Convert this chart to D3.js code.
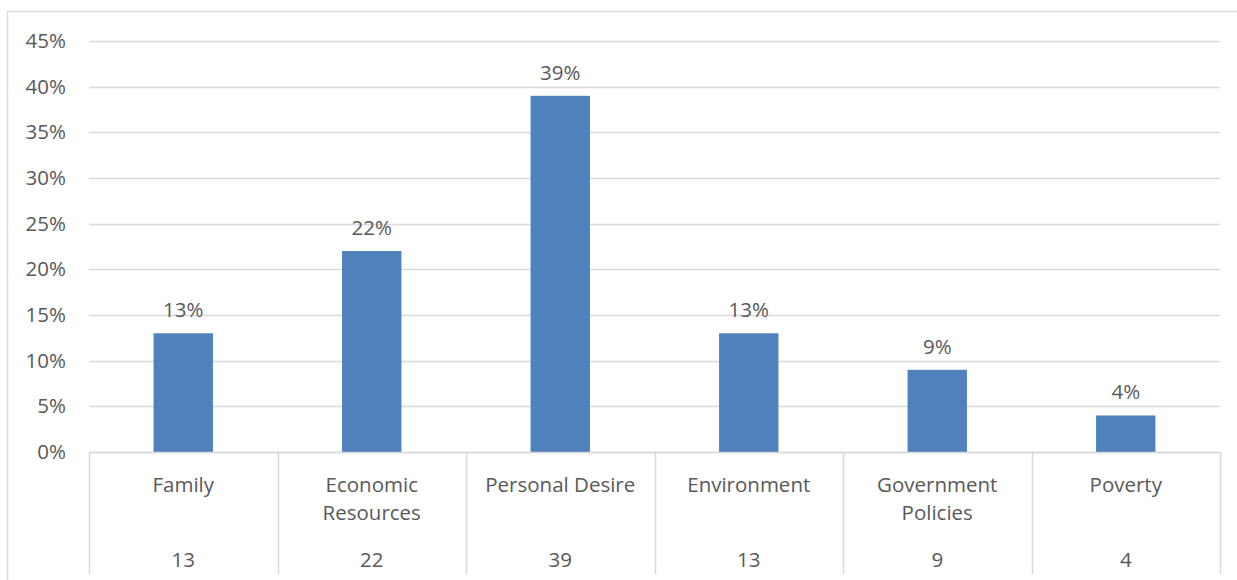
<!DOCTYPE html>
<html>
<head>
<meta charset="utf-8">
<script src="https://cdn.jsdelivr.net/npm/d3@7"></script>
<style>
  body { margin: 0; background: #fff; }
  svg text { font-family: "Open Sans", Lato, sans-serif; fill: #595959; }
</style>
</head>
<body>
<div id="chart"></div>
<script>
//******************************************************************************
//**  Data
//******************************************************************************
var categories = [["Family"], ["Economic", "Resources"], ["Personal Desire"], ["Environment"], ["Government", "Policies"], ["Poverty"]];
var counts = [13, 22, 39, 13, 9, 4];
var percents = [13, 22, 39, 13, 9, 4];
var yTicks = [0, 5, 10, 15, 20, 25, 30, 35, 40, 45];


//******************************************************************************
//**  Chart
//******************************************************************************
var chartWidth = 1237, chartHeight = 580;
var plotLeft = 89, plotRight = 1220, plotTop = 41, plotBottom = 452, tableBottom = 574;
var gridColor = "#d9d9d9";
var fontSize = 20.5;

var svg = d3.select("#chart").append("svg")
    .attr("width", chartWidth)
    .attr("height", chartHeight);

// outer border
svg.append("path")
    .attr("d", "M7.5," + chartHeight + "V11.5H" + chartWidth)
    .attr("fill", "none")
    .attr("stroke", gridColor)
    .attr("stroke-width", 1.5);

var x = d3.scaleBand()
    .domain(d3.range(categories.length))
    .range([plotLeft, plotRight])
    .paddingInner(0)
    .paddingOuter(0);

var y = d3.scaleLinear()
    .domain([0, 45])
    .range([plotBottom, plotTop]);

// gridlines
svg.append("g").selectAll("line")
    .data(yTicks)
    .enter().append("line")
    .attr("x1", plotLeft)
    .attr("x2", plotRight)
    .attr("y1", function(d){ return Math.round(y(d)) + 0.5; })
    .attr("y2", function(d){ return Math.round(y(d)) + 0.5; })
    .attr("stroke", gridColor)
    .attr("stroke-width", 1.5);

// y axis labels
var yAxis = d3.axisLeft(y)
    .tickValues(yTicks)
    .tickSize(0)
    .tickPadding(23)
    .tickFormat(function(d){ return d + "%"; });

var ya = svg.append("g")
    .attr("transform", "translate(" + plotLeft + ",0)")
    .call(yAxis);
ya.select(".domain").remove();
ya.selectAll("text")
    .attr("font-family", "'Open Sans', Lato, sans-serif")
    .attr("font-size", fontSize)
    .attr("fill", "#595959");

// bars
var barWidth = x.bandwidth() * 0.315;
svg.append("g").selectAll("rect")
    .data(percents)
    .enter().append("rect")
    .attr("x", function(d, i){ return x(i) + (x.bandwidth() - barWidth) / 2; })
    .attr("y", function(d){ return y(d); })
    .attr("width", barWidth)
    .attr("height", function(d){ return y(0) - y(d); })
    .attr("fill", "#4f81bd");

// value labels
svg.append("g").selectAll("text")
    .data(percents)
    .enter().append("text")
    .attr("x", function(d, i){ return x(i) + x.bandwidth() / 2; })
    .attr("y", function(d){ return y(d) - 16; })
    .attr("text-anchor", "middle")
    .attr("font-size", fontSize)
    .text(function(d){ return d + "%"; });

// data table lines
var table = svg.append("g");
table.append("line")
    .attr("x1", plotLeft).attr("x2", plotRight)
    .attr("y1", plotBottom + 0.5).attr("y2", plotBottom + 0.5)
    .attr("stroke", gridColor).attr("stroke-width", 1.5);

table.selectAll(".vline")
    .data(d3.range(categories.length + 1))
    .enter().append("line")
    .attr("class", "vline")
    .attr("x1", function(i){ return Math.round(plotLeft + i * x.step()) + 0.5; })
    .attr("x2", function(i){ return Math.round(plotLeft + i * x.step()) + 0.5; })
    .attr("y1", plotBottom)
    .attr("y2", tableBottom)
    .attr("stroke", gridColor)
    .attr("stroke-width", 1.5);

// category labels
var cat = table.selectAll(".cat")
    .data(categories)
    .enter().append("text")
    .attr("class", "cat")
    .attr("text-anchor", "middle")
    .attr("font-size", fontSize)
    .attr("x", function(d, i){ return x(i) + x.bandwidth() / 2; })
    .attr("y", 492);

cat.selectAll("tspan")
    .data(function(d){ return d; })
    .enter().append("tspan")
    .attr("x", function(){ return d3.select(this.parentNode).attr("x"); })
    .attr("dy", function(d, i){ return i === 0 ? 0 : 28; })
    .text(function(d){ return d; });

// count row
table.selectAll(".count")
    .data(counts)
    .enter().append("text")
    .attr("class", "count")
    .attr("text-anchor", "middle")
    .attr("font-size", fontSize)
    .attr("x", function(d, i){ return x(i) + x.bandwidth() / 2; })
    .attr("y", 567)
    .text(function(d){ return d; });
</script>
</body>
</html>
